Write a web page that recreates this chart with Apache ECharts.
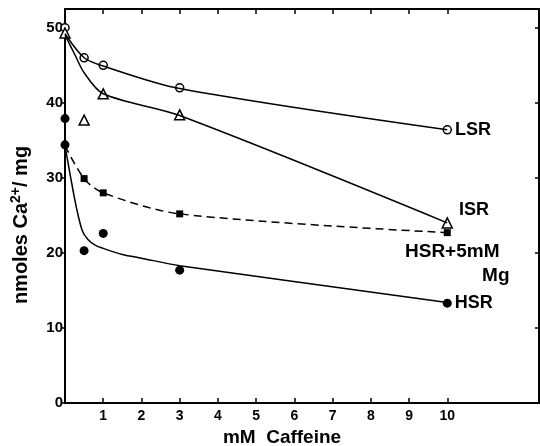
<!DOCTYPE html>
<html>
<head>
<meta charset="utf-8">
<script src="https://cdn.jsdelivr.net/npm/echarts@6/dist/echarts.min.js"></script>
<style>
  html, body { margin: 0; padding: 0; background: #fff; }
  #main { width: 540px; height: 446px; }
</style>
</head>
<body>
<div id="main"></div>
<script>
// tick values
var xTicks = [1, 2, 3, 4, 5, 6, 7, 8, 9, 10];
var yTicks = [0, 10, 20, 30, 40, 50];

// measured points [mM caffeine, nmoles]
var lsrPts = [[0, 50], [0.5, 46], [1, 45], [3, 42], [10, 36.4]];
var isrPts = [[0, 49.3], [0.5, 37.7], [1, 41.2], [3, 38.4], [10, 24]];
var mgPts = [[0.5, 29.9], [1, 28], [3, 25.2], [10, 22.7]];
var hsrPts = [[0, 37.9], [0, 34.4], [0.5, 20.3], [1, 22.6], [3, 17.7], [10, 13.3]];

// hand drawn curves
var lsrCurve = [[0, 49.2], [0.5, 46], [1, 44.9], [3, 41.9], [10, 36.4]];
var isrCurve = [[0, 49], [0.25, 46.5], [0.5, 44], [1, 41.2], [3, 38.3], [10, 24]];
var mgCurve = [[0, 34.3], [0.5, 29.9], [1, 28], [3, 25.2], [10, 22.7]];
var hsrCurve = [[0, 34.3], [0.15, 30], [0.3, 26], [0.45, 23], [0.6, 21.8], [0.8, 21],
                [1, 20.6], [1.5, 19.8], [2, 19.3], [3, 18.3], [10, 13.4]];

var ink = '#000';
var fontF = '"Liberation Sans", Arial, sans-serif';

var myChart = echarts.init(document.getElementById('main'));

function lastLabel(pts, label) {
	// put the label on the 10 mM point only
	return pts.map(function(p, i) {
		if (i === pts.length - 1) return { value: p, label: label };
		return p;
	});
}

var labelBase = { show: true, color: ink, fontFamily: fontF, fontWeight: 'bold', fontSize: 18 };

var option = {
	backgroundColor: '#fff',
	animation: false,
	grid: { left: 65, right: 1, top: 9, bottom: 43, outerBoundsMode: 'none' },
	xAxis: [{
		type: 'value', min: 0, max: 12.4,
		splitLine: { show: false },
		axisLine: { onZero: false, lineStyle: { color: ink, width: 2 } },
		axisTick: { inside: true, length: 5, customValues: xTicks, lineStyle: { color: ink, width: 1.5 } },
		axisLabel: { customValues: xTicks, color: ink, fontFamily: fontF, fontWeight: 'bold', fontSize: 14, margin: 6 },
		name: 'mM  Caffeine',
		nameLocation: 'middle',
		nameGap: 24,
		nameTextStyle: { color: ink, fontFamily: fontF, fontWeight: 'bold', fontSize: 19, padding: [0, 40, 0, 0] }
	}, {
		type: 'value', min: 0, max: 12.4, position: 'top',
		splitLine: { show: false },
		axisLine: { onZero: false, lineStyle: { color: ink, width: 2 } },
		axisTick: { inside: true, length: 5, customValues: xTicks, lineStyle: { color: ink, width: 1.5 } },
		axisLabel: { show: false }
	}],
	yAxis: [{
		type: 'value', min: 0, max: 52.5,
		splitLine: { show: false },
		axisLine: { onZero: false, lineStyle: { color: ink, width: 2 } },
		axisTick: { length: 4, customValues: yTicks, lineStyle: { color: ink, width: 1.5 } },
		axisLabel: { customValues: yTicks, color: ink, fontFamily: fontF, fontWeight: 'bold', fontSize: 15, margin: 2 },
		name: '{n|nmoles Ca}{s|2+}{n|/ mg}',
		nameLocation: 'middle',
		nameGap: 32,
		nameTextStyle: {
			color: ink,
			padding: [0, 38, 0, 0],
			rich: {
				n: { fontFamily: fontF, fontWeight: 'bold', fontSize: 20, color: ink },
				s: { fontFamily: fontF, fontWeight: 'bold', fontSize: 14, color: ink, verticalAlign: 'top', padding: [0, 0, 10, 0] }
			}
		}
	}, {
		type: 'value', min: 0, max: 52.5, position: 'right',
		splitLine: { show: false },
		axisLine: { onZero: false, lineStyle: { color: ink, width: 2 } },
		axisTick: { inside: true, length: 4, customValues: [10, 20, 30, 40, 50], lineStyle: { color: ink, width: 1.5 } },
		axisLabel: { show: false }
	}],
	series: [
		// curves
		{ type: 'line', data: lsrCurve, smooth: 0.3, showSymbol: false, clip: false, silent: true,
		  lineStyle: { color: ink, width: 1.5 } },
		{ type: 'line', data: isrCurve, smooth: 0.3, showSymbol: false, clip: false, silent: true,
		  lineStyle: { color: ink, width: 1.5 } },
		{ type: 'line', data: mgCurve, smooth: 0.3, showSymbol: false, clip: false, silent: true,
		  lineStyle: { color: ink, width: 1.5, type: [8, 5] } },
		{ type: 'line', data: hsrCurve, smooth: 0.3, showSymbol: false, clip: false, silent: true,
		  lineStyle: { color: ink, width: 1.5 } },
		// points
		{ name: 'LSR', type: 'scatter', clip: false, symbol: 'circle', symbolSize: 8,
		  itemStyle: { color: '#fff', borderColor: ink, borderWidth: 1.5, opacity: 1 },
		  data: lastLabel(lsrPts, Object.assign({}, labelBase, { position: 'right', distance: 3, formatter: 'LSR' })) },
		{ name: 'ISR', type: 'scatter', clip: false, symbol: 'triangle', symbolSize: 10,
		  itemStyle: { color: '#fff', borderColor: ink, borderWidth: 1.5, opacity: 1 },
		  data: lastLabel(isrPts, Object.assign({}, labelBase, { position: 'right', distance: 6, offset: [0, -13], formatter: 'ISR' })) },
		{ name: 'HSR+5mM Mg', type: 'scatter', clip: false, symbol: 'rect', symbolSize: 7,
		  itemStyle: { color: ink, opacity: 1 },
		  data: lastLabel(mgPts, Object.assign({}, labelBase, {
			  position: 'bottom', distance: 4, offset: [10, 0],
			  formatter: '{a|HSR+5mM}\n{b|Mg}',
			  rich: {
				  a: { fontFamily: fontF, fontWeight: 'bold', fontSize: 19, color: ink, lineHeight: 24, padding: [0, 10, 0, 0] },
				  b: { fontFamily: fontF, fontWeight: 'bold', fontSize: 19, color: ink, lineHeight: 24, align: 'right' }
			  }
		  })) },
		{ name: 'HSR', type: 'scatter', clip: false, symbol: 'circle', symbolSize: 9,
		  itemStyle: { color: ink, opacity: 1 },
		  data: lastLabel(hsrPts, Object.assign({}, labelBase, { position: 'right', distance: 3, formatter: 'HSR' })) }
	]
};

myChart.setOption(option);
</script>
</body>
</html>
